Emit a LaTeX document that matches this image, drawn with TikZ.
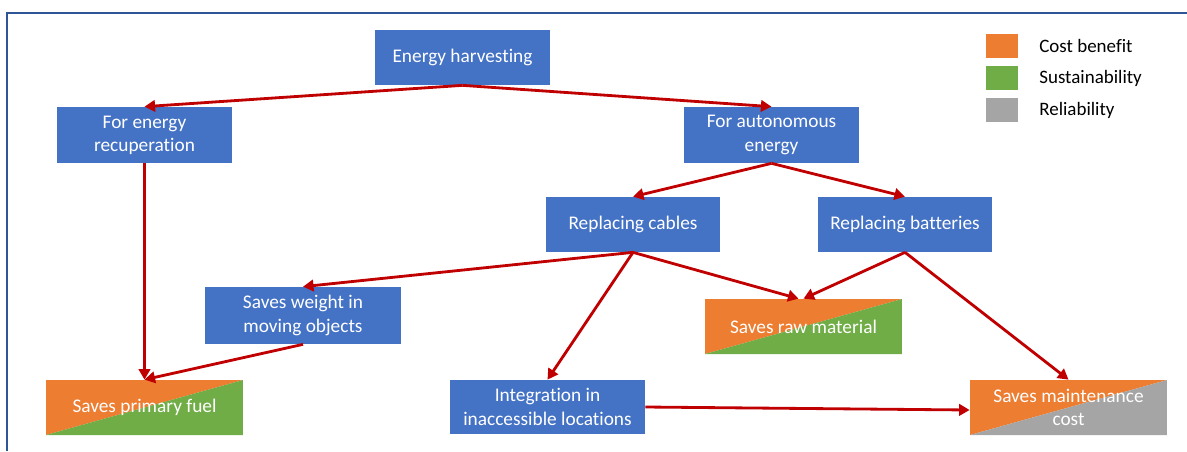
\documentclass[tikz,border=0pt]{standalone}
\usepackage{fontspec}
\setmainfont[Ligatures=NoCommon]{Carlito}
\usepackage{tikz}
\usetikzlibrary{arrows.meta}
\usetikzlibrary{positioning}
\usepackage{xcolor}

\definecolor{boxblue}{HTML}{4472C4}
\definecolor{costorange}{HTML}{ED7D31}
\definecolor{sustgreen}{HTML}{70AD47}
\definecolor{relgray}{HTML}{A5A5A5}
\definecolor{arrowred}{HTML}{C00000}
\definecolor{frameblue}{HTML}{2F5597}

\tikzset{
  box/.style={fill=boxblue, text=white, align=center, inner sep=0pt,
    font=\fontsize{11}{13.2}\selectfont},
  halfbox/.style 2 args={box, fill=none, path picture={
    \fill[#1] (path picture bounding box.south west) -- (path picture bounding box.north west)
      -- (path picture bounding box.north east) -- cycle;
    \fill[#2] (path picture bounding box.south west) -- (path picture bounding box.south east)
      -- (path picture bounding box.north east) -- cycle;}},
  link/.style={draw=arrowred, line width=1.6pt, -{Triangle[length=6pt,width=6.5pt]}},
  keybox/.style={minimum width=0.64cm, minimum height=0.48cm, inner sep=0pt},
  keytext/.style={anchor=west, inner sep=0pt, font=\fontsize{10.8}{13}\selectfont}
}

\begin{document}
\begin{tikzpicture}[x=0.02cm,y=-0.02cm]
\useasboundingbox (0,0) rectangle (1187,451);
\draw[frameblue, line width=1.2pt] (7,451) -- (7,13) -- (1187,13);

% tree of boxes
\node[box, minimum width=3.5cm, minimum height=1.1cm] (harvest) at (462.5,57.5) {Energy harvesting};
\node[box, minimum width=3.5cm, minimum height=1.12cm] (recup) at (144.5,135) {For energy\\recuperation};
\node[box, minimum width=3.5cm, minimum height=1.12cm] (auton) at (771.5,135) {For autonomous\\energy};
\node[box, minimum width=3.48cm, minimum height=1.1cm] (cables) at (633,224.5) {Replacing cables};
\node[box, minimum width=3.48cm, minimum height=1.1cm] (batteries) at (905,224.5) {Replacing batteries};
\node[box, minimum width=3.92cm, minimum height=1.14cm] (weight) at (303,315.5) {Saves weight in\\moving objects};
\node[box, minimum width=3.9cm, minimum height=1.08cm] (integr) at (547.5,407) {Integration in\\inaccessible locations};

% benefits
\node[halfbox={costorange}{sustgreen}, minimum width=3.94cm, minimum height=1.1cm] (fuel) at (144.5,407.5) {Saves primary fuel};
\node[halfbox={costorange}{sustgreen}, minimum width=3.94cm, minimum height=1.1cm] (raw) at (803.5,326.5) {Saves raw material};
\node[halfbox={costorange}{relgray}, minimum width=3.94cm, minimum height=1.1cm] (maint) at (1068.5,407.5) {Saves maintenance\\cost};

% legend
\node[keybox, fill=costorange] (keycost) at (1002,46) {};
\node[keybox, fill=sustgreen] (keysust) at (1002,78) {};
\node[keybox, fill=relgray] (keyrel) at (1002,110) {};
\node[keytext] (lblcost) at (1039,46) {Cost benefit};
\node[keytext] (lblsust) at (1039,78) {Sustainability};
\node[keytext] (lblrel) at (1039,110) {Reliability};

% arrows
\draw[link] (harvest.south) -- (recup.north);
\draw[link] (harvest.south) -- (auton.north);
\draw[link] (auton.south) -- (cables.north);
\draw[link] (auton.south) -- (batteries.north);
\draw[link] (recup.south) -- (fuel.north);
\draw[link] (cables.south) -- (weight.north);
\draw[link] (cables.south) -- (integr.north);
\draw[link] (cables.south) -- ([xshift=-0.1cm]raw.north);
\draw[link] (batteries.south) -- (raw.north);
\draw[link] (batteries.south) -- (maint.north);
\draw[link] (weight.south) -- (fuel.north);
\draw[link] (integr.east) -- ([yshift=-0.05cm]maint.west);
\end{tikzpicture}
\end{document}
